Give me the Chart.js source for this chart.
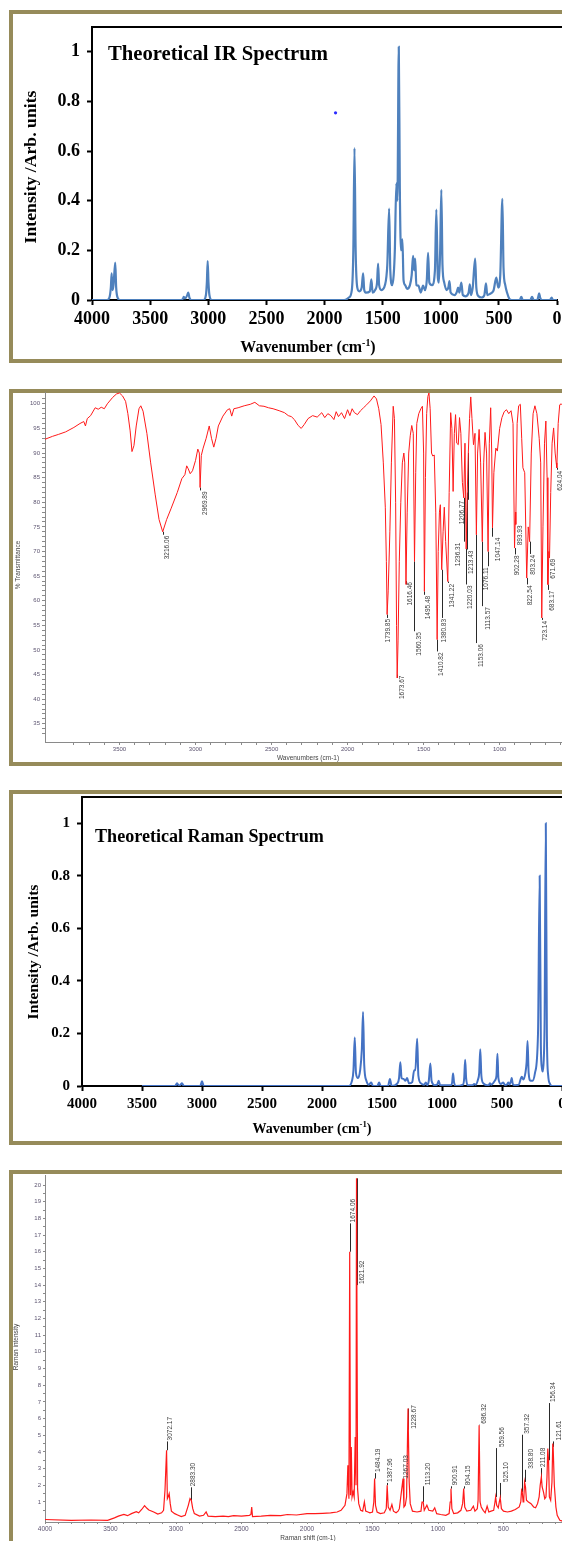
<!DOCTYPE html>
<html>
<head>
<meta charset="utf-8">
<title>IR and Raman spectra</title>
<script src="https://cdn.jsdelivr.net/npm/chart.js@4.4.1/dist/chart.umd.min.js"></script>
<style>
    html, body { margin: 0; padding: 0; background: #fff; overflow: hidden; }
    body { position: relative; width: 562px; height: 1541px; }
    .frame { position: absolute; left: 9px; width: 640px; border: 4px solid #968b5a; box-sizing: border-box; }
    canvas { position: absolute; left: 0; }
</style>
</head>
<body>
<div class="frame" style="top:10px;height:353px"></div>
<div class="frame" style="top:389px;height:377px"></div>
<div class="frame" style="top:790px;height:355px"></div>
<div class="frame" style="top:1170px;height:420px"></div>
<canvas id="c1" width="600" height="370" style="top:0;width:600px;height:370px"></canvas>
<canvas id="c2" width="600" height="400" style="top:380px;width:600px;height:400px"></canvas>
<canvas id="c3" width="600" height="370" style="top:780px;width:600px;height:370px"></canvas>
<canvas id="c4" width="600" height="381" style="top:1160px;width:600px;height:381px"></canvas>
<script>
// Theoretical IR spectrum (wavenumber / normalised intensity), vertices
const irTheoWn = [4000, 3870, 3850, 3838, 3831, 3824, 3815, 3800, 3792, 3780, 3760, 3230, 3215, 3210, 3200, 3180, 3172,
    3162, 3145, 3040, 3020, 3012, 3005, 2998, 2990, 2970, 1830, 1790, 1765, 1752, 1742, 1732, 1718, 1700, 1680, 1668,
    1658, 1645, 1610, 1597, 1586, 1565, 1548, 1539, 1530, 1510, 1480, 1460, 1444, 1434, 1418, 1405, 1395, 1382, 1373,
    1361, 1352, 1342, 1330, 1320, 1306, 1290, 1265, 1250, 1238, 1229, 1220, 1210, 1192, 1172, 1152, 1135, 1120, 1109,
    1098, 1075, 1050, 1038, 1025, 1016, 1005, 995, 985, 970, 950, 935, 925, 915, 880, 860, 851, 840, 823, 810, 785, 760,
    750, 740, 725, 704, 694, 675, 650, 625, 611, 600, 575, 559, 545, 522, 505, 488, 470, 460, 445, 430, 410, 390, 320,
    307, 295, 230, 215, 200, 170, 160, 154, 145, 130, 60, 46, 35, 0];
const irTheoInt = [0, 0, 0.01, 0.05, 0.107, 0.04, 0.06, 0.151, 0.05, 0.01, 0, 0, 0.008, 0.013, 0.006, 0.02, 0.03,
    0.01, 0, 0, 0.02, 0.07, 0.157, 0.07, 0.02, 0, 0, 0.01, 0.04, 0.2, 0.612, 0.2, 0.05, 0.035, 0.05, 0.107,
    0.04, 0.03, 0.035, 0.083, 0.03, 0.04, 0.07, 0.147, 0.06, 0.04, 0.06, 0.14, 0.368, 0.12, 0.06, 0.1, 0.2, 0.47, 0.4,
    1.02, 0.45, 0.2, 0.244, 0.08, 0.06, 0.045, 0.06, 0.1, 0.178, 0.12, 0.167, 0.06, 0.058, 0.03, 0.058, 0.04, 0.08, 0.19,
    0.07, 0.06, 0.12, 0.364, 0.09, 0.07, 0.2, 0.444, 0.14, 0.07, 0.04, 0.05, 0.076, 0.03, 0.02, 0.035, 0.05, 0.03, 0.07, 0.02, 0.015, 0.03,
    0.063, 0.02, 0.05, 0.167, 0.05, 0.015, 0.01, 0.02, 0.067, 0.02, 0.025, 0.03, 0.04, 0.09, 0.05, 0.1, 0.408, 0.13, 0.06, 0.03, 0.005, 0, 0,
    0.013, 0, 0, 0.013, 0, 0, 0.015, 0.027, 0.01, 0, 0, 0.01, 0, 0];
const strayWn = [1905];
const strayInt = [0.754];

// Experimental FT-IR (% transmittance)
const irExpWn = [3990, 3940, 3900, 3854, 3800, 3760, 3735, 3724, 3712, 3690, 3660, 3640, 3620, 3600, 3580, 3545, 3520,
    3500, 3480, 3460, 3445, 3430, 3418, 3405, 3390, 3372, 3360, 3345, 3320, 3295, 3265, 3240, 3216, 3190, 3160, 3120,
    3090, 3070, 3058, 3048, 3035, 3020, 3000, 2985, 2975, 2970, 2962, 2950, 2930, 2910, 2895, 2880, 2865, 2850, 2820,
    2790, 2775, 2762, 2748, 2720, 2680, 2640, 2610, 2580, 2550, 2520, 2490, 2450, 2415, 2390, 2370, 2350, 2325, 2305,
    2285, 2260, 2230, 2200, 2170, 2150, 2130, 2110, 2090, 2075, 2060, 2040, 2020, 2000, 1985, 1970, 1955, 1935, 1915,
    1895, 1875, 1850, 1826, 1810, 1795, 1780, 1765, 1752, 1745, 1740, 1733, 1722, 1712, 1700, 1692, 1684, 1678, 1674,
    1668, 1660, 1650, 1640, 1630, 1624, 1616, 1608, 1598, 1588, 1578, 1568, 1560, 1552, 1545, 1532, 1518, 1508, 1500,
    1495, 1488, 1480, 1472, 1465, 1457, 1448, 1440, 1430, 1420, 1411, 1404, 1396, 1390, 1381, 1372, 1364, 1355, 1341,
    1332, 1322, 1314, 1306, 1298, 1290, 1282, 1272, 1264, 1255, 1245, 1236, 1228, 1220, 1213, 1206, 1198, 1190, 1182,
    1172, 1162, 1153, 1145, 1135, 1125, 1114, 1105, 1096, 1086, 1076, 1068, 1059, 1052, 1047, 1038, 1025, 1015, 1000,
    985, 970, 955, 940, 925, 912, 902, 896, 894, 885, 875, 864, 855, 847, 835, 822, 812, 803, 792, 780, 768, 755, 740,
    730, 723, 715, 705, 696, 688, 683, 676, 672, 664, 655, 645, 635, 628, 624, 615, 605, 595, 580];
const irExpT = [92.8, 93.4, 93.8, 94.3, 95.2, 96.0, 96.4, 95.5, 97.0, 97.6, 99.2, 98.9, 99.3, 99.0, 100.0, 101.3, 102.0,
    102.2, 101.6, 100.5, 98.0, 94.5, 90.3, 91.5, 95.5, 99.0, 99.6, 98.5, 94.0, 88.0, 81.5, 76.5, 74.0, 76.5, 78.8, 82.0,
    84.8, 85.6, 87.4, 86.8, 85.8, 86.4, 88.5, 90.8, 90.0, 83.0, 89.5, 91.0, 93.0, 95.5, 93.0, 91.2, 93.0, 95.5, 97.5,
    98.8, 99.0, 97.5, 99.0, 99.2, 99.6, 99.9, 100.3, 99.6, 99.5, 99.2, 99.0, 98.6, 98.2, 97.6, 97.4, 96.8, 95.6, 95.0,
    95.8, 97.0, 97.6, 97.3, 98.2, 97.2, 98.0, 97.6, 96.8, 98.4, 97.4, 98.2, 97.0, 98.8, 97.6, 99.0, 98.2, 97.8, 98.6,
    99.2, 99.8, 100.6, 101.6, 101.0, 99.0, 95.8, 88.0, 79.0, 68.0, 57.2, 62.0, 74.0, 88.0, 99.5, 97.0, 80.0, 55.0, 44.3,
    52.0, 68.0, 80.0, 88.0, 90.0, 88.0, 63.3, 78.0, 90.0, 93.5, 95.6, 94.0, 68.0, 86.0, 96.0, 98.0, 99.0, 99.5, 90.0,
    61.9, 85.0, 98.0, 101.5, 102.2, 99.0, 90.0, 89.4, 89.6, 78.0, 52.1, 70.0, 78.0, 79.5, 66.3, 74.0, 79.0, 72.0, 63.9,
    82.0, 98.2, 95.0, 82.2, 94.0, 97.8, 92.0, 91.7, 97.2, 94.0, 84.0, 80.9, 92.0, 70.5, 82.0, 90.0, 97.0, 101.4, 97.0,
    91.7, 94.0, 73.4, 90.0, 94.8, 88.0, 72.0, 88.0, 94.2, 90.0, 70.0, 92.0, 99.2, 90.0, 74.8, 86.0, 91.0, 90.4, 95.0,
    97.2, 98.4, 98.8, 98.0, 98.6, 96.0, 70.7, 78.0, 75.5, 96.0, 99.6, 99.9, 93.0, 87.0, 86.0, 64.6, 75.0, 72.0, 90.0,
    98.0, 99.6, 98.0, 93.0, 88.0, 56.5, 75.0, 92.0, 96.5, 85.0, 63.3, 70.0, 68.7, 82.0, 92.0, 95.1, 90.0, 88.0, 87.0,
    96.0, 99.8, 100.0, 99.5];
// peak labels: text, position of the text and the level where it starts
const irLabels = ['3216.06', '2969.89', '1739.85', '1673.67', '1616.46', '1560.35', '1495.48', '1410.82', '1380.83',
    '1341.22', '1236.31', '1206.77', '1220.03', '1213.43', '1153.06', '1076.11', '1113.57', '1047.14', '902.28',
    '893.93', '822.54', '803.24', '723.14', '683.17', '671.69', '624.04'];
const irLabelWn = [3189, 2939, 1731, 1642, 1590, 1531, 1472, 1383, 1364, 1312, 1272, 1248, 1194, 1184, 1123, 1090, 1078,
    1012, 883, 866, 800, 777, 699, 654, 647, 600];
const irLabelT = [73.4, 82.4, 56.5, 45, 64, 53.8, 61.2, 49.7, 56.5, 63.6, 72, 80.5, 63.3, 70.4, 51.4, 67, 58.9, 73,
    69.4, 75.5, 63.3, 69.5, 56.1, 62.2, 68.7, 86.6];

// Theoretical Raman spectrum
const ramTheoWn = [3500, 3225, 3208, 3192, 3180, 3167, 3150, 3015, 3000, 2985, 1780, 1750, 1738, 1727, 1717, 1700, 1682,
    1668, 1658, 1648, 1630, 1610, 1590, 1575, 1540, 1524, 1510, 1450, 1434, 1420, 1372, 1358, 1347, 1337, 1320, 1305,
    1291, 1275, 1248, 1232, 1222, 1207, 1197, 1175, 1150, 1135, 1122, 1110, 1097, 1087, 1060, 1040, 1028, 1015, 925,
    915, 908, 900, 885, 825, 815, 807, 799, 785, 745, 732, 720, 700, 690, 681, 672, 655, 612, 601, 590, 560, 546, 538,
    530, 510, 490, 475, 458, 449, 437, 425, 419, 410, 390, 360, 342, 335, 322, 305, 295, 287, 278, 262, 245, 225, 200,
    186, 176, 168, 160, 152, 145, 135, 126, 115, 100, 85, 0];
const ramTheoInt = [0, 0, 0.01, 0.002, 0.004, 0.01, 0, 0, 0.018, 0, 0, 0.02, 0.06, 0.185, 0.05, 0.03, 0.06,
    0.14, 0.282, 0.08, 0.02, 0.005, 0.013, 0, 0, 0.013, 0, 0, 0.027, 0, 0.01, 0.03, 0.09, 0.03, 0.027, 0.02,
    0.03, 0.01, 0.015, 0.06, 0.06, 0.18, 0.04, 0.01, 0.005, 0.013, 0.003, 0.02, 0.086, 0.02, 0.003, 0.005, 0.02, 0.003, 0.003,
    0.015, 0.048, 0.015, 0, 0.005, 0.03, 0.1, 0.03, 0.003, 0.003, 0.008, 0.005, 0.025, 0.05, 0.14, 0.04, 0.01, 0.002, 0.01, 0.005, 0.02, 0.04, 0.123,
    0.03, 0.008, 0.013, 0.004, 0.006, 0.013, 0.006, 0.02, 0.03, 0.008, 0.003, 0.005, 0.03, 0.035, 0.025, 0.05, 0.09, 0.171, 0.05, 0.02, 0.02, 0.05, 0.2,
    0.8, 0.15, 0.07, 0.055, 0.1, 0.25, 1.0, 0.2, 0.04, 0.008, 0, 0];

// Experimental FT-Raman
const ramExpWn = [4000, 3800, 3650, 3522, 3470, 3440, 3398, 3370, 3340, 3303, 3285, 3262, 3240, 3222, 3207, 3170, 3139,
    3110, 3095, 3084, 3072, 3066, 3060, 3052, 3044, 3035, 3010, 2988, 2960, 2930, 2906, 2893, 2883, 2872, 2860, 2820,
    2790, 2770, 2755, 2700, 2640, 2600, 2560, 2500, 2440, 2428, 2422, 2416, 2350, 2280, 2200, 2150, 2080, 2000, 1940,
    1880, 1820, 1770, 1740, 1710, 1695, 1688, 1680, 1674, 1668, 1662, 1656, 1648, 1640, 1632, 1626, 1622, 1614, 1605,
    1590, 1575, 1562, 1552, 1535, 1520, 1500, 1490, 1484, 1477, 1465, 1440, 1410, 1395, 1388, 1380, 1366, 1352, 1340,
    1320, 1305, 1295, 1267, 1260, 1250, 1240, 1229, 1220, 1212, 1195, 1160, 1130, 1122, 1113, 1105, 1085, 1070, 1040,
    1025, 1010, 980, 940, 915, 907, 901, 894, 880, 850, 825, 812, 804, 796, 780, 750, 730, 718, 700, 694, 686, 679, 670,
    655, 640, 625, 612, 595, 575, 565, 560, 552, 540, 532, 525, 516, 500, 470, 440, 410, 380, 368, 362, 357, 350, 345,
    339, 332, 325, 310, 290, 270, 255, 240, 228, 220, 211, 205, 195, 185, 176, 168, 162, 156, 150, 140, 130, 124, 121,
    112, 100, 90, 70, 50];
const ramExpInt = [-0.05, -0.1, -0.08, -0.1, 0.05, 0.15, 0.25, 0.18, 0.3, 0.42, 0.35, 0.55, 0.78, 0.62, 0.52, 0.4, 0.28,
    0.35, 0.5, 1.7, 4.1, 1.2, 1.3, 1.5, 0.9, 0.45, 0.3, 0.22, 0.12, 0.2, 0.8, 1.2, 1.1, 0.6, 0.3, 0.15,
    0.2, 0.4, 0.15, 0.12, 0.15, 0.12, 0.18, 0.15, 0.2, 0.25, 0.7, 0.12, 0.15, 0.2, 0.18, 0.25, 0.22, 0.3, 0.3,
    0.32, 0.35, 0.4, 0.5, 0.8, 1.5, 3.2, 1.2, 16.0, 1.4, 4.3, 1.3, 1.6, 1.3, 4.9, 2.0, 20.4, 1.8, 0.9,
    0.5, 0.45, 1.0, 0.45, 0.4, 0.35, 0.4, 1.0, 2.4, 0.8, 0.4, 0.3, 0.35, 0.6, 2.0, 0.7, 0.5, 0.85, 0.45,
    0.35, 0.45, 0.6, 2.4, 0.7, 0.8, 1.3, 6.6, 2.2, 0.9, 0.45, 0.4, 0.45, 1.0, 1.0, 0.5, 0.8, 0.5, 0.45,
    0.65, 0.3, 0.25, 0.2, 0.3, 1.0, 1.8, 0.6, 0.3, 0.35, 0.5, 0.9, 1.8, 0.7, 0.45, 0.5, 0.75, 0.45, 0.6, 1.1, 5.6, 1.0, 0.7,
    0.5, 0.35, 0.75, 0.4, 0.45, 0.5, 1.0, 1.3, 0.8, 0.65, 1.0, 1.25, 0.6, 0.45, 0.4, 0.45, 0.55, 0.7, 1.0, 1.7, 1.6, 1.0, 1.2,
    2.2, 1.9, 1.1, 1.0, 0.9, 0.7, 0.65, 0.9, 1.3, 2.0, 2.5, 1.9, 1.6, 1.2, 1.3, 2.5, 4.2, 3.5, 1.3, 1.1, 2.2, 4.5, 4.3,
    2.0, 0.7, 0.2, -0.1, -0.15];
const ramLabels = ['3072.17', '2883.30', '1674.06', '1621.92', '1484.19', '1387.96', '1267.03', '1228.67', '1113.20',
    '900.91', '804.15', '686.32', '559.56', '525.10', '357.32', '338.80', '211.08', '156.34', '121.61'];
const ramLabelWn = [3043, 2865, 1649, 1580, 1457, 1362, 1246, 1184, 1075, 870, 766, 645, 509, 481, 317, 290, 197, 118, 77];
const ramLabelI = [4.63, 1.88, 17.7, 14.0, 2.73, 2.14, 2.34, 5.33, 1.94, 1.94, 1.94, 5.63, 4.23, 2.14, 5.03, 2.93, 3.03, 6.93, 4.63];

const SERIF = '"Liberation Serif", "Times New Roman", serif';
const SANS = '"Liberation Sans", Arial, sans-serif';
const TICK_GREY = '#5c5470';

function pts(xs, ys) {
    return xs.map((x, i) => ({ x: x, y: ys[i] }));
}

// font size that makes a text as wide as in the picture
function fitSize(ctx, text, weight, family, width) {
    ctx.save();
    ctx.font = `${weight} 100px ${family}`;
    const w = ctx.measureText(text).width;
    ctx.restore();
    return 100 * width / w;
}

function drawText(ctx, text, x, y, font, color, align, rot) {
    ctx.save();
    ctx.font = font;
    ctx.fillStyle = color;
    ctx.textAlign = align || 'center';
    ctx.textBaseline = 'middle';
    ctx.translate(x, y);
    if (rot) ctx.rotate(rot);
    ctx.fillText(text, 0, 0);
    ctx.restore();
}

// "Wavenumber (cm-1)" with a raised -1
function waveTitle(ctx, cx, cy, width) {
    const size = fitSize(ctx, 'Wavenumber (cm-1)', 'bold', SERIF, width * 0.93);
    const big = `bold ${size}px ${SERIF}`;
    const small = `bold ${size * 0.62}px ${SERIF}`;
    ctx.save();
    ctx.font = big;
    const w1 = ctx.measureText('Wavenumber (cm').width;
    const w3 = ctx.measureText(')').width;
    ctx.font = small;
    const w2 = ctx.measureText('-1').width;
    let x = cx - (w1 + w2 + w3) / 2;
    const base = cy + size * 0.33;
    ctx.fillStyle = '#000';
    ctx.textAlign = 'left';
    ctx.textBaseline = 'alphabetic';
    ctx.font = big; ctx.fillText('Wavenumber (cm', x, base); x += w1;
    ctx.font = small; ctx.fillText('-1', x, base - size * 0.4); x += w2;
    ctx.font = big; ctx.fillText(')', x, base);
    ctx.restore();
}

function boxTop(chart) {
    const { ctx, chartArea: a } = chart;
    ctx.save();
    ctx.strokeStyle = '#000';
    ctx.lineWidth = 2;
    ctx.beginPath();
    ctx.moveTo(a.left - 1, a.top);
    ctx.lineTo(chart.width, a.top);
    ctx.stroke();
    ctx.restore();
}

// leader lines from each peak to its label
function peakLeaders(chart, texts, anchors, wn, vals) {
    const { ctx, scales: { x, y } } = chart;
    ctx.save();
    ctx.strokeStyle = '#2a2a2a';
    ctx.lineWidth = 1;
    texts.forEach((t, i) => {
        const pk = parseFloat(t);
        let k = 0;
        for (let j = 1; j < wn.length; j++) {
            if (Math.abs(wn[j] - pk) < Math.abs(wn[k] - pk)) k = j;
        }
        const px = Math.round(x.getPixelForValue(pk)) + 0.5;
        ctx.beginPath();
        ctx.moveTo(px, y.getPixelForValue(vals[k]));
        ctx.lineTo(px, y.getPixelForValue(anchors[i]));
        ctx.stroke();
    });
    ctx.restore();
}

function peakTexts(chart, texts, labelWn, anchors, below) {
    const { ctx, scales: { x, y } } = chart;
    texts.forEach((t, i) => {
        const tx = x.getPixelForValue(labelWn[i]);
        const ay = y.getPixelForValue(anchors[i]);
        drawText(ctx, t, tx, below ? ay + 1 : ay - 1, `6.5px ${SANS}`, '#3c3c3c', below ? 'right' : 'left', -Math.PI / 2);
    });
}

function theoX(height, fontSize, z) {
    return {
        type: 'linear', min: 0, max: 4000, reverse: true, z: z || 0,
        afterFit: s => { s.height = height; },
        afterBuildTicks: s => { s.ticks = s.ticks.filter(t => t.value % 500 === 0); },
        ticks: { stepSize: 500, autoSkip: false, maxRotation: 0, padding: 4, color: '#000', callback: v => String(v),
            font: { family: SERIF, size: fontSize, weight: 'bold' } },
        grid: { drawOnChartArea: false, drawTicks: true, tickLength: 5, tickColor: '#000', tickWidth: 2 },
        border: { display: true, color: '#000', width: 2 }
    };
}

function theoY(width, fontSize) {
    return {
        type: 'linear', min: 0, max: 1.1,
        afterFit: s => { s.width = width; },
        afterBuildTicks: s => { s.ticks = s.ticks.filter(t => t.value <= 1.0001); },
        ticks: { stepSize: 0.2, padding: 7, color: '#000', callback: v => String(+v.toFixed(1)),
            font: { family: SERIF, size: fontSize, weight: 'bold' } },
        grid: { drawOnChartArea: false, drawTicks: true, tickLength: 5, tickColor: '#000', tickWidth: 2 },
        border: { display: true, color: '#000', width: 2 }
    };
}

// minor ticks every step, labels only on the major ones
function expScale(opts) {
    return {
        type: 'linear', min: opts.min, max: opts.max, reverse: !!opts.reverse,
        afterFit: s => { if (opts.height) s.height = opts.height; else s.width = opts.width; },
        afterBuildTicks: s => {
            s.ticks = s.ticks.filter(t => {
                const n = t.value / opts.step;
                return Math.abs(n - Math.round(n)) < 1e-6 && t.value >= opts.lo && t.value <= opts.hi;
            });
        },
        ticks: { stepSize: opts.step, autoSkip: false, maxRotation: 0, padding: opts.pad, color: TICK_GREY,
            font: { family: SANS, size: opts.font },
            callback: v => (Math.abs(v % opts.major) < 1e-6 && v >= opts.labLo && v <= opts.labHi) ? String(Math.round(v)) : '' },
        grid: { drawOnChartArea: false, drawTicks: true, tickLength: opts.tick, tickColor: '#8a8a8a', tickWidth: 1 },
        border: { display: true, color: '#8a8a8a', width: 1 }
    };
}

const common = {
    responsive: false,
    animation: false,
    events: [],
    plugins: { legend: { display: false }, tooltip: { enabled: false } }
};

// 1. Theoretical IR
new Chart(document.getElementById('c1'), {
    type: 'line',
    data: {
        datasets: [
            { data: pts(irTheoWn, irTheoInt), borderColor: '#4f81bd', borderWidth: 2.2, pointRadius: 0,
              cubicInterpolationMode: 'monotone', fill: false },
            { data: pts(strayWn, strayInt), showLine: false, pointRadius: 1.6, pointBorderWidth: 0,
              pointBackgroundColor: '#2b2bff' }
        ]
    },
    options: Object.assign({}, common, {
        layout: { padding: { left: 0, top: 27, right: 43, bottom: 30 } },
        scales: { x: theoX(40, 18), y: theoY(92, 18) }
    }),
    plugins: [{
        id: 'irTheoDecor',
        afterDraw(chart) {
            const ctx = chart.ctx;
            boxTop(chart);
            const t = 'Theoretical IR Spectrum';
            drawText(ctx, t, 108, 55, `bold ${fitSize(ctx, t, 'bold', SERIF, 220)}px ${SERIF}`, '#000', 'left');
            const y = 'Intensity /Arb. units';
            drawText(ctx, y, 31, 167, `bold ${fitSize(ctx, y, 'bold', SERIF, 153)}px ${SERIF}`, '#000', 'center', -Math.PI / 2);
            waveTitle(ctx, 308, 347, 151);
        }
    }]
});

// 2. Experimental FT-IR
new Chart(document.getElementById('c2'), {
    type: 'line',
    data: {
        datasets: [{ data: pts(irExpWn, irExpT), borderColor: '#ff1a1a', borderWidth: 1, pointRadius: 0, tension: 0, fill: false }]
    },
    options: Object.assign({}, common, {
        layout: { padding: { left: 0, top: 12, right: 0, bottom: 18 } },
        scales: {
            x: expScale({ min: 340, max: 3990, reverse: true, height: 20, step: 100, major: 500, lo: 340, hi: 3990,
                labLo: 500, labHi: 3500, font: 6, pad: 1, tick: 3 }),
            y: expScale({ min: 31.3, max: 102.4, width: 45, step: 1, major: 5, lo: 32, hi: 102,
                labLo: 35, labHi: 100, font: 6, pad: 2, tick: 3 })
        }
    }),
    plugins: [{
        id: 'irExpDecor',
        beforeDatasetsDraw(chart) {
            peakLeaders(chart, irLabels, irLabelT, irExpWn, irExpT);
        },
        afterDraw(chart) {
            const ctx = chart.ctx;
            peakTexts(chart, irLabels, irLabelWn, irLabelT, true);
            drawText(ctx, '% Transmittance', 18, 185, `6.5px ${SANS}`, '#444', 'center', -Math.PI / 2);
            drawText(ctx, 'Wavenumbers (cm-1)', 308, 378, `6.5px ${SANS}`, '#444');
        }
    }]
});

// 3. Theoretical Raman
new Chart(document.getElementById('c3'), {
    type: 'line',
    data: {
        datasets: [{ data: pts(ramTheoWn, ramTheoInt), borderColor: '#4472c4', borderWidth: 2, pointRadius: 0,
            cubicInterpolationMode: 'monotone', fill: false }]
    },
    options: Object.assign({}, common, {
        layout: { padding: { left: 0, top: 17, right: 38, bottom: 24 } },
        scales: { x: theoX(40, 15, 1), y: theoY(82, 15) }
    }),
    plugins: [{
        id: 'ramTheoDecor',
        afterDraw(chart) {
            const ctx = chart.ctx;
            boxTop(chart);
            const t = 'Theoretical Raman Spectrum';
            drawText(ctx, t, 95, 57, `bold ${fitSize(ctx, t, 'bold', SERIF, 229)}px ${SERIF}`, '#000', 'left');
            const y = 'Intensity /Arb. units';
            drawText(ctx, y, 34, 172, `bold ${fitSize(ctx, y, 'bold', SERIF, 135)}px ${SERIF}`, '#000', 'center', -Math.PI / 2);
            waveTitle(ctx, 312, 348, 133);
        }
    }]
});

// 4. Experimental FT-Raman
new Chart(document.getElementById('c4'), {
    type: 'line',
    data: {
        datasets: [{ data: pts(ramExpWn, ramExpInt), borderColor: '#ff1a1a', borderWidth: 1.2, pointRadius: 0, tension: 0, fill: false }]
    },
    options: Object.assign({}, common, {
        layout: { padding: { left: 0, top: 15, right: 31, bottom: 3 } },
        scales: {
            x: expScale({ min: 0, max: 4000, reverse: true, height: 16, step: 100, major: 500, lo: 0, hi: 4000,
                labLo: 0, labHi: 4000, font: 6.5, pad: 1, tick: 2 }),
            y: expScale({ min: -0.2, max: 20.6, width: 45, step: 0.5, major: 1, lo: 0, hi: 20,
                labLo: 0, labHi: 20, font: 6, pad: 2, tick: 2 })
        }
    }),
    plugins: [{
        id: 'ramExpDecor',
        beforeDatasetsDraw(chart) {
            peakLeaders(chart, ramLabels, ramLabelI, ramExpWn, ramExpInt);
        },
        afterDraw(chart) {
            const ctx = chart.ctx;
            peakTexts(chart, ramLabels, ramLabelWn, ramLabelI, false);
            drawText(ctx, 'Raman intensity', 16, 187, `6.5px ${SANS}`, '#444', 'center', -Math.PI / 2);
            drawText(ctx, 'Raman shift (cm-1)', 308, 378, `6.5px ${SANS}`, '#444');
        }
    }]
});
</script>
</body>
</html>
